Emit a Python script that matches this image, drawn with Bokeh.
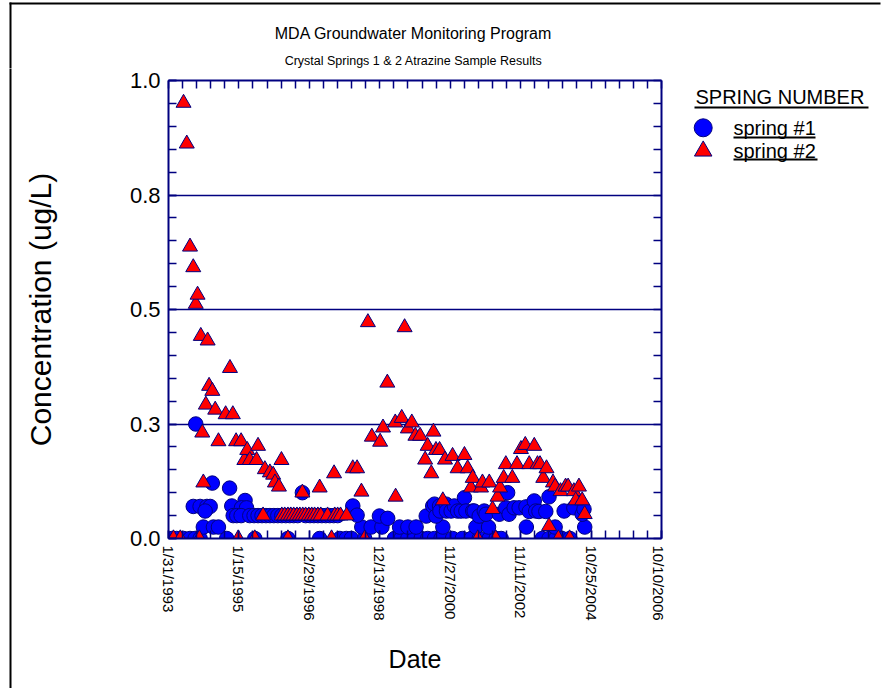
import math
from datetime import datetime
import pandas as pd
from bokeh.plotting import figure
from bokeh.layouts import column, row
from bokeh.models import Range1d, FixedTicker, LinearAxis, ColumnDataSource
from bokeh.core.properties import value
from bokeh.embed import file_html
from bokeh.resources import INLINE

# ---------------- data ----------------
# spring #1 : decimal year of sample, atrazine concentration (ug/L)
s1_year = [
    1993.18, 1993.31, 1993.50, 1993.68, 1993.82, 1993.96, 1994.70, 1995.48, 1996.40, 1997.28,
    1997.84, 1998.02, 1998.16, 1998.53, 1999.36, 1999.54, 1999.73, 1999.91, 2000.10, 2000.28,
    2000.47, 2000.65, 2000.97, 2001.24, 2001.49, 2001.71, 2001.99, 2002.18, 2002.32, 2003.46,
    2003.65, 2003.84, 2004.01, 2004.23,
    1994.05, 1994.33, 1994.47, 1998.45, 1998.71, 1999.01, 1999.50, 1999.73, 1999.96, 2000.70,
    2001.62, 2001.97, 2003.02, 2003.82, 2004.64,
    1993.84, 1994.30, 1994.78, 1993.77, 1993.96, 1994.15, 1994.24, 1994.10, 1994.84, 1995.21,
    1995.11, 1995.25, 1996.80,
    1994.88, 1994.98, 1995.10, 1995.34, 1995.46, 1995.57, 1995.68, 1995.79, 1995.90, 1996.01,
    1996.12, 1996.23, 1996.34, 1996.45, 1996.56, 1996.67, 1996.89, 1997.01, 1997.12, 1997.23,
    1997.34, 1997.45, 1997.56, 1997.67, 1997.78,
    1998.20, 1998.32, 1998.94, 1999.17, 2000.24, 2000.42, 2000.47, 2000.51, 2000.61, 2000.62,
    2000.79, 2000.80, 2000.93, 2001.02, 2001.11, 2001.21, 2001.30, 2001.34, 2001.53, 2001.57,
    2001.71, 2001.85, 2001.90, 2002.27, 2002.45, 2002.50, 2002.54, 2002.68, 2002.82, 2003.01,
    2003.10, 2003.24, 2003.28, 2003.37, 2003.56, 2003.65, 2004.07, 2004.34, 2004.57, 2004.62,
]
s1_conc = [
    0, 0, 0, 0, 0, 0, 0, 0, 0, 0,
    0, 0, 0, 0, 0, 0, 0, 0, 0, 0,
    0, 0, 0, 0, 0, 0, 0, 0, 0, 0,
    0, 0, 0, 0,
    0.025, 0.025, 0.025, 0.025, 0.025, 0.025, 0.025, 0.025, 0.025, 0.025,
    0.025, 0.025, 0.025, 0.025, 0.025,
    0.250, 0.121, 0.110, 0.070, 0.070, 0.070, 0.070, 0.060, 0.071, 0.083,
    0.067, 0.067, 0.100,
    0.05, 0.05, 0.05, 0.05, 0.05, 0.05, 0.05, 0.05, 0.05, 0.05,
    0.05, 0.05, 0.05, 0.05, 0.05, 0.05, 0.05, 0.05, 0.05, 0.05,
    0.05, 0.05, 0.05, 0.05, 0.05,
    0.071, 0.051, 0.049, 0.044, 0.049, 0.071, 0.075, 0.049, 0.071, 0.060,
    0.075, 0.060, 0.060, 0.071, 0.060, 0.060, 0.089, 0.060, 0.060, 0.060,
    0.049, 0.060, 0.053, 0.053, 0.067, 0.100, 0.053, 0.067, 0.067, 0.069,
    0.059, 0.082, 0.060, 0.059, 0.059, 0.091, 0.060, 0.067, 0.053, 0.064,
]

# spring #2
s2_year = [
    1993.22, 1993.41, 1993.94, 1995.02, 1995.48, 1996.40, 1997.61, 1998.53, 2001.67, 2002.17,
    2003.91, 2004.22,
    1993.50, 1993.59, 1993.68, 1993.77, 1993.84, 1993.89, 1993.98, 1994.02, 1994.05, 1994.12,
    1994.17, 1994.21, 1994.30, 1994.38, 1994.47, 1994.67, 1994.79, 1994.87, 1994.96, 1995.10,
    1995.19, 1995.27, 1995.34, 1995.53, 1995.57, 1995.76, 1995.90, 1995.99, 1996.04, 1996.15,
    1996.22, 1996.80,
    1995.71, 1996.23, 1996.31, 1996.40, 1996.48, 1996.56, 1996.65, 1996.73, 1996.81, 1996.89,
    1996.98, 1997.06, 1997.14, 1997.23, 1997.31, 1997.50, 1997.70, 1997.78, 1997.86, 1998.03,
    1997.28, 1997.68, 1998.20, 1998.32, 1998.44, 1998.62, 1998.73, 1998.96, 1999.04, 1999.16,
    1999.38, 1999.39, 1999.56, 1999.64, 1999.73, 1999.84, 1999.94, 2000.07, 2000.21, 2000.28,
    2000.38, 2000.44, 2000.51, 2000.61, 2000.70, 2000.76, 2000.97, 2001.11, 2001.30, 2001.39,
    2001.48, 2001.53, 2001.76, 2001.80, 2001.99, 2002.08, 2002.22, 2002.29, 2002.39, 2002.45,
    2002.63, 2002.76, 2002.87, 2002.99, 2003.10, 2003.24, 2003.33, 2003.40, 2003.49, 2003.58,
    2003.65, 2003.76, 2003.82, 2003.97, 2004.11, 2004.18, 2004.34, 2004.39, 2004.48, 2004.57,
    2004.64,
]
s2_conc = [
    0, 0, 0, 0, 0, 0, 0, 0, 0, 0,
    0, 0,
    0.951, 0.862, 0.637, 0.592, 0.512, 0.532, 0.442, 0.231, 0.122, 0.292,
    0.432, 0.333, 0.322, 0.281, 0.212, 0.271, 0.372, 0.271, 0.212, 0.212,
    0.171, 0.193, 0.171, 0.171, 0.202, 0.151, 0.144, 0.139, 0.122, 0.113,
    0.171, 0.100,
    0.05, 0.05, 0.05, 0.05, 0.05, 0.05, 0.05, 0.05, 0.05, 0.05,
    0.05, 0.05, 0.05, 0.05, 0.05, 0.05, 0.05, 0.05, 0.05, 0.05,
    0.111, 0.142, 0.153, 0.153, 0.102, 0.472, 0.222, 0.211, 0.242, 0.340,
    0.253, 0.091, 0.263, 0.461, 0.240, 0.253, 0.224, 0.224, 0.172, 0.202,
    0.142, 0.233, 0.193, 0.193, 0.083, 0.172, 0.180, 0.153, 0.182, 0.153,
    0.111, 0.132, 0.111, 0.122, 0.122, 0.064, 0.091, 0.111, 0.132, 0.162,
    0.132, 0.162, 0.195, 0.204, 0.162, 0.202, 0.162, 0.162, 0.132, 0.153,
    0.027, 0.122, 0.113, 0.103, 0.113, 0.113, 0.103, 0.083, 0.113, 0.083,
    0.053,
]

x_tick_labels = ["1/31/1993", "1/15/1995", "12/29/1996", "12/13/1998",
                 "11/27/2000", "11/11/2002", "10/25/2004", "10/10/2006"]
y_ticks = [0.0, 0.25, 0.5, 0.75, 1.0]
y_tick_labels = ["0.0", "0.3", "0.5", "0.8", "1.0"]
y_minor_step = 0.05
x_minor_per_major = 5

title_text = "MDA Groundwater Monitoring Program"
subtitle_text = "Crystal Springs 1 & 2 Atrazine Sample Results"
x_title = "Date"
y_title = "Concentration (ug/L)"
legend_title = "SPRING NUMBER"
series_names = ["spring #1", "spring #2"]

# ---------------- helpers ----------------
def year_to_ms(y):
    yi = int(math.floor(y))
    a = pd.Timestamp(year=yi, month=1, day=1)
    b = pd.Timestamp(year=yi + 1, month=1, day=1)
    return (a + (b - a) * (y - yi)).value / 1e6

x_ticks = [pd.Timestamp(datetime.strptime(s, "%m/%d/%Y")).value / 1e6 for s in x_tick_labels]
x_minor = []
for a, b in zip(x_ticks[:-1], x_ticks[1:]):
    for k in range(x_minor_per_major + 1):
        x_minor.append(a + (b - a) * k / x_minor_per_major)
y_minor = [round(k * y_minor_step, 4) for k in range(int(round(1 / y_minor_step)) + 1)]

src1 = ColumnDataSource(dict(x=[year_to_ms(v) for v in s1_year], y=s1_conc))
src2 = ColumnDataSource(dict(x=[year_to_ms(v) for v in s2_year], y=s2_conc))

NAVY = "#000080"
FONT = "Liberation Sans"
W, H = 888, 688
TOP_H = 68
LEFT_W = 20
MAIN_W = 646
LEG_W = W - LEFT_W - MAIN_W
BODY_H = H - TOP_H


def blank(width, height, xr, yr):
    f = figure(width=width, height=height, x_range=Range1d(*xr), y_range=Range1d(*yr),
               output_backend="svg", toolbar_location=None,
               x_axis_location=None, y_axis_location=None,
               min_border=0, min_border_left=0, min_border_right=0,
               min_border_top=0, min_border_bottom=0, frame_align=False)
    f.grid.visible = False
    f.outline_line_color = None
    f.background_fill_color = "white"
    f.border_fill_color = "white"
    return f

# ---------------- main plot ----------------
p = figure(width=MAIN_W, height=BODY_H, x_axis_type="datetime",
           x_range=Range1d(x_ticks[0], x_ticks[-1]), y_range=Range1d(0, 1),
           output_backend="svg", toolbar_location=None, frame_align=False,
           min_border_left=148, min_border_right=5, min_border_top=12, min_border_bottom=150)
p.outline_line_color = None
p.background_fill_color = "white"
p.border_fill_color = "white"

r1 = p.scatter("x", "y", source=src1, marker="circle", size=14.5,
               fill_color="#0000FF", line_color=NAVY, line_width=1)
r2 = p.scatter("x", "y", source=src2, marker="triangle", size=15,
               fill_color="#FF0000", line_color=NAVY, line_width=1)


def style_axis(ax):
    ax.axis_line_color = NAVY
    ax.axis_line_width = 2
    ax.major_tick_line_color = NAVY
    ax.minor_tick_line_color = NAVY
    ax.major_tick_line_width = 1.5
    ax.minor_tick_line_width = 1.5
    ax.major_tick_in = 8
    ax.major_tick_out = 0
    ax.minor_tick_in = 8
    ax.minor_tick_out = 0

xa = p.xaxis[0]
style_axis(xa)
xa.ticker = FixedTicker(ticks=x_ticks, minor_ticks=x_minor)
xa.major_label_overrides = {t: s for t, s in zip(x_ticks, x_tick_labels)}
xa.major_label_orientation = -math.pi / 2
xa.major_label_text_font = FONT
xa.major_label_text_font_size = "15px"
xa.major_label_text_color = "black"
xa.major_label_standoff = 7
xa.axis_label = x_title
xa.axis_label_text_font = FONT
xa.axis_label_text_font_size = "25px"
xa.axis_label_text_font_style = "normal"
xa.axis_label_text_color = "black"
xa.axis_label_standoff = 21

ya = p.yaxis[0]
style_axis(ya)
ya.ticker = FixedTicker(ticks=y_ticks, minor_ticks=y_minor)
ya.major_label_overrides = {t: s for t, s in zip(y_ticks, y_tick_labels)}
ya.major_label_text_font = FONT
ya.major_label_text_font_size = "22px"
ya.major_label_text_color = "black"
ya.major_label_standoff = 8
ya.axis_label = y_title
ya.axis_label_text_font = FONT
ya.axis_label_text_font_size = "30px"
ya.axis_label_text_font_style = "normal"
ya.axis_label_text_color = "black"
ya.axis_label_standoff = 70

top_ax = LinearAxis(ticker=FixedTicker(ticks=[], minor_ticks=x_minor))
style_axis(top_ax)
top_ax.major_label_standoff = 0
p.add_layout(top_ax, "above")
right_ax = LinearAxis(ticker=FixedTicker(ticks=[], minor_ticks=y_minor))
style_axis(right_ax)
right_ax.major_label_standoff = 0
p.add_layout(right_ax, "right")

p.xgrid.visible = False
p.ygrid.ticker = FixedTicker(ticks=y_ticks[1:-1])
p.ygrid.grid_line_color = NAVY
p.ygrid.grid_line_width = 1.5

# ---------------- top strip: titles + frame line ----------------
top = blank(W, TOP_H, (0, W), (TOP_H, 0))
top.text(x=[413], y=[33], text=[title_text], text_font=value(FONT),
         text_font_size=value("16px"), text_align="center", text_baseline="middle",
         text_color="black")
top.text(x=[413], y=[60], text=[subtitle_text], text_font=value(FONT),
         text_font_size=value("12.5px"), text_align="center", text_baseline="middle",
         text_color="black")
top.segment(x0=[9, 10], y0=[3, 2], x1=[880, 10], y1=[3, TOP_H + 10],
            line_color="black", line_width=2)

# ---------------- left strip: frame line ----------------
left = blank(LEFT_W, BODY_H, (0, LEFT_W), (H, TOP_H))
left.segment(x0=[10], y0=[TOP_H - 10], x1=[10], y1=[H + 10], line_color="black", line_width=2)

# ---------------- legend panel ----------------
x0 = LEFT_W + MAIN_W
leg = blank(LEG_W, BODY_H, (x0, W), (H, TOP_H))
leg.text(x=[695], y=[96], text=[legend_title], text_font=value(FONT),
         text_font_size=value("20px"), text_align="left", text_baseline="middle",
         text_color="black")
leg.scatter(x=[702.7], y=[127.3], marker="circle", size=18,
            fill_color="#0000FF", line_color=NAVY, line_width=1)
leg.scatter(x=[702.7], y=[150.5], marker="triangle", size=17.5,
            fill_color="#FF0000", line_color=NAVY, line_width=1)
leg.text(x=[733, 733], y=[127, 150], text=series_names, text_font=value(FONT),
         text_font_size=value("20px"), text_align="left", text_baseline="middle",
         text_color="black")
leg.segment(x0=[694, 733, 733], y0=[107, 137, 159], x1=[868, 815, 817], y1=[107, 137, 159],
            line_color="black", line_width=2)

layout = column(top, row(left, p, leg, spacing=0), spacing=0)
open("out.html", "w").write(file_html(layout, INLINE))
